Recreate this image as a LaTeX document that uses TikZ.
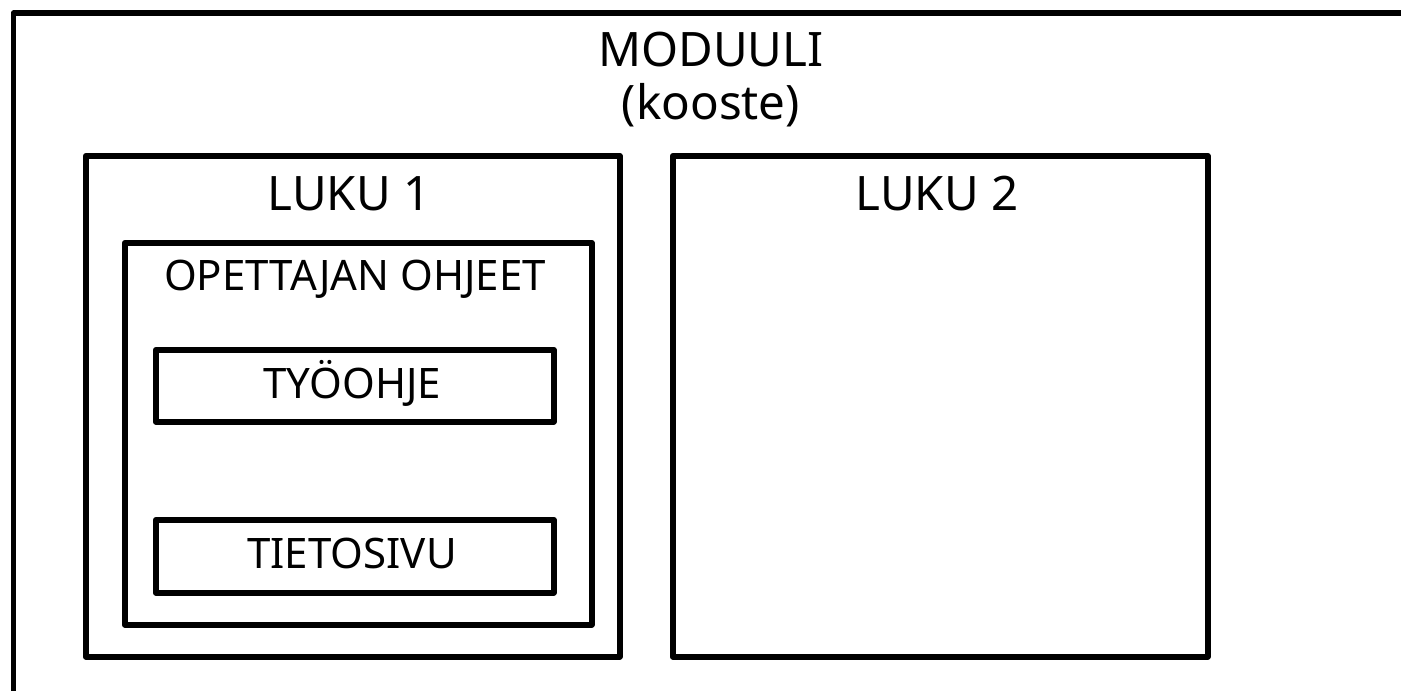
\documentclass[tikz,border=0pt]{standalone}
\usepackage{fontspec}
\setmainfont{Noto Sans}
\begin{document}
\begin{tikzpicture}[x=1bp,y=-1bp,
  box/.style={draw=black, line width=5.5bp, line join=round, rectangle, inner sep=0pt, anchor=north west},
  bigtxt/.style={anchor=base, inner sep=0pt, font=\fontsize{47.5bp}{56bp}\selectfont},
  smalltxt/.style={anchor=base, inner sep=0pt, font=\fontsize{42bp}{50bp}\selectfont}]
\useasboundingbox (0,0) rectangle (1401,691);
\clip (0,0) rectangle (1401,691);
\node[box, minimum width=1420bp, minimum height=720bp] (modbox) at (10.5,10.5) {};
\node[bigtxt] (modtitle) at (711,67) {MODUULI};
\node[bigtxt] (modsub) at (711,120) {(kooste)};
\node[box, minimum width=534bp, minimum height=501bp] (luku1) at (83,153) {};
\node[box, minimum width=535bp, minimum height=501bp] (luku2) at (670,153) {};
\node[bigtxt] (luku1t) at (349,210) {LUKU 1};
\node[bigtxt] (luku2t) at (937,210) {LUKU 2};
\node[box, minimum width=467bp, minimum height=382bp] (ohjeet) at (122,240) {};
\node[smalltxt] (ohjeett) at (355,290) {OPETTAJAN OHJEET};
\node[box, minimum width=398bp, minimum height=72bp] (tyo) at (153,347) {};
\node[smalltxt] (tyot) at (352,398) {TYÖOHJE};
\node[box, minimum width=398bp, minimum height=73bp] (tieto) at (153,517) {};
\node[smalltxt] (tietot) at (352,568) {TIETOSIVU};
\end{tikzpicture}
\end{document}
